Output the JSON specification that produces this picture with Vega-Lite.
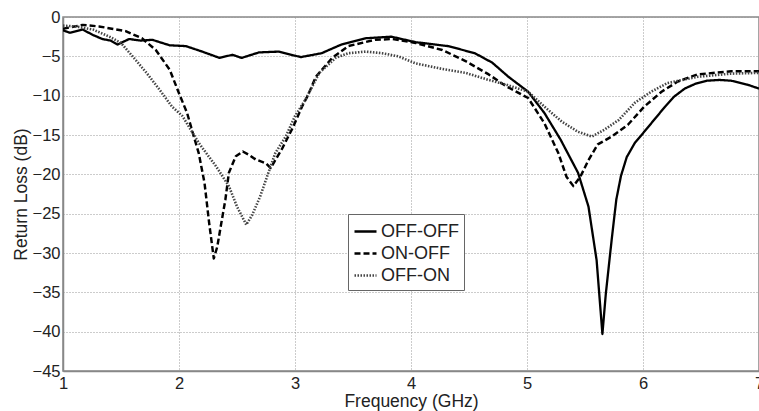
{
  "$schema": "https://vega.github.io/schema/vega-lite/v6.json",
  "width": 696,
  "height": 354,
  "autosize": {"type": "none"},
  "padding": {"left": 63, "top": 17, "right": 0, "bottom": 40},
  "background": "white",
  "config": {
    "font": "Liberation Sans",
    "view": {"stroke": "#888", "strokeWidth": 1.5},
    "axis": {
      "domainColor": "#888",
      "domainWidth": 1.5,
      "gridColor": "#999",
      "gridDash": [1, 2],
      "gridWidth": 1,
      "ticks": false,
      "labelFont": "Liberation Sans",
      "labelFontSize": 16.5,
      "labelColor": "#222",
      "titleFont": "Liberation Sans",
      "titleFontSize": 17.5,
      "titleFontWeight": "normal",
      "titleColor": "#222"
    },
    "legend": {
      "labelFont": "Liberation Sans",
      "labelFontSize": 18,
      "labelColor": "#222"
    }
  },
  "data": {
    "values": [
      {"f": 1.0, "db": -1.7, "s": "OFF-OFF"},
      {"f": 1.06, "db": -2.0, "s": "OFF-OFF"},
      {"f": 1.17, "db": -1.6, "s": "OFF-OFF"},
      {"f": 1.26, "db": -2.3, "s": "OFF-OFF"},
      {"f": 1.34, "db": -2.8, "s": "OFF-OFF"},
      {"f": 1.41, "db": -3.0, "s": "OFF-OFF"},
      {"f": 1.47, "db": -3.5, "s": "OFF-OFF"},
      {"f": 1.57, "db": -2.8, "s": "OFF-OFF"},
      {"f": 1.67, "db": -3.0, "s": "OFF-OFF"},
      {"f": 1.77, "db": -2.9, "s": "OFF-OFF"},
      {"f": 1.92, "db": -3.6, "s": "OFF-OFF"},
      {"f": 2.06, "db": -3.7, "s": "OFF-OFF"},
      {"f": 2.2, "db": -4.4, "s": "OFF-OFF"},
      {"f": 2.35, "db": -5.2, "s": "OFF-OFF"},
      {"f": 2.46, "db": -4.8, "s": "OFF-OFF"},
      {"f": 2.54, "db": -5.2, "s": "OFF-OFF"},
      {"f": 2.69, "db": -4.5, "s": "OFF-OFF"},
      {"f": 2.86, "db": -4.4, "s": "OFF-OFF"},
      {"f": 3.05, "db": -5.1, "s": "OFF-OFF"},
      {"f": 3.23, "db": -4.6, "s": "OFF-OFF"},
      {"f": 3.4, "db": -3.5, "s": "OFF-OFF"},
      {"f": 3.61, "db": -2.7, "s": "OFF-OFF"},
      {"f": 3.83, "db": -2.5, "s": "OFF-OFF"},
      {"f": 4.04, "db": -3.2, "s": "OFF-OFF"},
      {"f": 4.32, "db": -3.7, "s": "OFF-OFF"},
      {"f": 4.55, "db": -4.6, "s": "OFF-OFF"},
      {"f": 4.7, "db": -5.8, "s": "OFF-OFF"},
      {"f": 4.84, "db": -7.6, "s": "OFF-OFF"},
      {"f": 5.01, "db": -9.5, "s": "OFF-OFF"},
      {"f": 5.15, "db": -12.2, "s": "OFF-OFF"},
      {"f": 5.29, "db": -15.6, "s": "OFF-OFF"},
      {"f": 5.44, "db": -19.8, "s": "OFF-OFF"},
      {"f": 5.53, "db": -24.1, "s": "OFF-OFF"},
      {"f": 5.6, "db": -30.9, "s": "OFF-OFF"},
      {"f": 5.65, "db": -40.3, "s": "OFF-OFF"},
      {"f": 5.68, "db": -35.1, "s": "OFF-OFF"},
      {"f": 5.73, "db": -28.3, "s": "OFF-OFF"},
      {"f": 5.77, "db": -23.2, "s": "OFF-OFF"},
      {"f": 5.81, "db": -20.2, "s": "OFF-OFF"},
      {"f": 5.86, "db": -17.8, "s": "OFF-OFF"},
      {"f": 5.93, "db": -16.0, "s": "OFF-OFF"},
      {"f": 6.01, "db": -14.6, "s": "OFF-OFF"},
      {"f": 6.1, "db": -13.0, "s": "OFF-OFF"},
      {"f": 6.19, "db": -11.4, "s": "OFF-OFF"},
      {"f": 6.27, "db": -10.1, "s": "OFF-OFF"},
      {"f": 6.36, "db": -9.1, "s": "OFF-OFF"},
      {"f": 6.45, "db": -8.5, "s": "OFF-OFF"},
      {"f": 6.55, "db": -8.1, "s": "OFF-OFF"},
      {"f": 6.66, "db": -8.0, "s": "OFF-OFF"},
      {"f": 6.76, "db": -8.1, "s": "OFF-OFF"},
      {"f": 6.9, "db": -8.6, "s": "OFF-OFF"},
      {"f": 7.0, "db": -9.1, "s": "OFF-OFF"},

      {"f": 1.0, "db": -1.5, "s": "ON-OFF"},
      {"f": 1.17, "db": -1.0, "s": "ON-OFF"},
      {"f": 1.31, "db": -1.2, "s": "ON-OFF"},
      {"f": 1.54, "db": -1.8, "s": "ON-OFF"},
      {"f": 1.68, "db": -2.7, "s": "ON-OFF"},
      {"f": 1.8, "db": -4.2, "s": "ON-OFF"},
      {"f": 1.92, "db": -6.7, "s": "ON-OFF"},
      {"f": 2.0, "db": -9.7, "s": "ON-OFF"},
      {"f": 2.07, "db": -12.2, "s": "ON-OFF"},
      {"f": 2.12, "db": -14.8, "s": "ON-OFF"},
      {"f": 2.17, "db": -17.3, "s": "ON-OFF"},
      {"f": 2.22, "db": -21.1, "s": "ON-OFF"},
      {"f": 2.26, "db": -26.2, "s": "ON-OFF"},
      {"f": 2.3, "db": -30.7, "s": "ON-OFF"},
      {"f": 2.33, "db": -29.2, "s": "ON-OFF"},
      {"f": 2.36, "db": -26.6, "s": "ON-OFF"},
      {"f": 2.4, "db": -23.2, "s": "ON-OFF"},
      {"f": 2.43, "db": -19.8, "s": "ON-OFF"},
      {"f": 2.49, "db": -17.7, "s": "ON-OFF"},
      {"f": 2.55, "db": -17.1, "s": "ON-OFF"},
      {"f": 2.6, "db": -17.5, "s": "ON-OFF"},
      {"f": 2.66, "db": -18.1, "s": "ON-OFF"},
      {"f": 2.75, "db": -18.6, "s": "ON-OFF"},
      {"f": 2.79, "db": -19.2, "s": "ON-OFF"},
      {"f": 2.83, "db": -18.2, "s": "ON-OFF"},
      {"f": 2.89, "db": -16.7, "s": "ON-OFF"},
      {"f": 2.98, "db": -14.1, "s": "ON-OFF"},
      {"f": 3.06, "db": -11.4, "s": "ON-OFF"},
      {"f": 3.11, "db": -10.0, "s": "ON-OFF"},
      {"f": 3.18, "db": -7.6, "s": "ON-OFF"},
      {"f": 3.32, "db": -5.2, "s": "ON-OFF"},
      {"f": 3.46, "db": -3.7, "s": "ON-OFF"},
      {"f": 3.69, "db": -2.9, "s": "ON-OFF"},
      {"f": 3.84, "db": -2.8, "s": "ON-OFF"},
      {"f": 4.04, "db": -3.3, "s": "ON-OFF"},
      {"f": 4.27, "db": -4.2, "s": "ON-OFF"},
      {"f": 4.47, "db": -5.6, "s": "ON-OFF"},
      {"f": 4.67, "db": -7.3, "s": "ON-OFF"},
      {"f": 4.82, "db": -8.8, "s": "ON-OFF"},
      {"f": 5.01, "db": -10.3, "s": "ON-OFF"},
      {"f": 5.15, "db": -13.5, "s": "ON-OFF"},
      {"f": 5.27, "db": -17.3, "s": "ON-OFF"},
      {"f": 5.34, "db": -20.3, "s": "ON-OFF"},
      {"f": 5.4, "db": -21.5, "s": "ON-OFF"},
      {"f": 5.46, "db": -20.3, "s": "ON-OFF"},
      {"f": 5.53, "db": -18.2, "s": "ON-OFF"},
      {"f": 5.61, "db": -16.2, "s": "ON-OFF"},
      {"f": 5.73, "db": -15.2, "s": "ON-OFF"},
      {"f": 5.87, "db": -13.7, "s": "ON-OFF"},
      {"f": 6.01, "db": -11.4, "s": "ON-OFF"},
      {"f": 6.16, "db": -9.5, "s": "ON-OFF"},
      {"f": 6.3, "db": -8.2, "s": "ON-OFF"},
      {"f": 6.47, "db": -7.3, "s": "ON-OFF"},
      {"f": 6.76, "db": -6.9, "s": "ON-OFF"},
      {"f": 7.0, "db": -6.9, "s": "ON-OFF"},

      {"f": 1.0, "db": -1.1, "s": "OFF-ON"},
      {"f": 1.11, "db": -1.2, "s": "OFF-ON"},
      {"f": 1.26, "db": -1.6, "s": "OFF-ON"},
      {"f": 1.4, "db": -2.5, "s": "OFF-ON"},
      {"f": 1.5, "db": -3.3, "s": "OFF-ON"},
      {"f": 1.6, "db": -5.0, "s": "OFF-ON"},
      {"f": 1.72, "db": -7.1, "s": "OFF-ON"},
      {"f": 1.83, "db": -9.2, "s": "OFF-ON"},
      {"f": 1.94, "db": -11.4, "s": "OFF-ON"},
      {"f": 2.03, "db": -12.6, "s": "OFF-ON"},
      {"f": 2.17, "db": -16.0, "s": "OFF-ON"},
      {"f": 2.32, "db": -19.0, "s": "OFF-ON"},
      {"f": 2.43, "db": -21.5, "s": "OFF-ON"},
      {"f": 2.5, "db": -24.1, "s": "OFF-ON"},
      {"f": 2.58, "db": -26.4, "s": "OFF-ON"},
      {"f": 2.63, "db": -25.2, "s": "OFF-ON"},
      {"f": 2.7, "db": -22.8, "s": "OFF-ON"},
      {"f": 2.78, "db": -19.4, "s": "OFF-ON"},
      {"f": 2.83, "db": -17.3, "s": "OFF-ON"},
      {"f": 2.92, "db": -15.2, "s": "OFF-ON"},
      {"f": 3.0, "db": -12.6, "s": "OFF-ON"},
      {"f": 3.09, "db": -10.5, "s": "OFF-ON"},
      {"f": 3.21, "db": -7.1, "s": "OFF-ON"},
      {"f": 3.35, "db": -5.2, "s": "OFF-ON"},
      {"f": 3.46, "db": -4.6, "s": "OFF-ON"},
      {"f": 3.61, "db": -4.4, "s": "OFF-ON"},
      {"f": 3.75, "db": -4.6, "s": "OFF-ON"},
      {"f": 3.89, "db": -5.0, "s": "OFF-ON"},
      {"f": 4.04, "db": -5.9, "s": "OFF-ON"},
      {"f": 4.27, "db": -6.6, "s": "OFF-ON"},
      {"f": 4.47, "db": -7.1, "s": "OFF-ON"},
      {"f": 4.67, "db": -8.0, "s": "OFF-ON"},
      {"f": 4.82, "db": -8.6, "s": "OFF-ON"},
      {"f": 5.01, "db": -9.5, "s": "OFF-ON"},
      {"f": 5.15, "db": -11.4, "s": "OFF-ON"},
      {"f": 5.3, "db": -13.3, "s": "OFF-ON"},
      {"f": 5.44, "db": -14.6, "s": "OFF-ON"},
      {"f": 5.56, "db": -15.2, "s": "OFF-ON"},
      {"f": 5.67, "db": -14.3, "s": "OFF-ON"},
      {"f": 5.79, "db": -13.1, "s": "OFF-ON"},
      {"f": 5.93, "db": -10.9, "s": "OFF-ON"},
      {"f": 6.07, "db": -9.5, "s": "OFF-ON"},
      {"f": 6.21, "db": -8.4, "s": "OFF-ON"},
      {"f": 6.47, "db": -7.6, "s": "OFF-ON"},
      {"f": 6.76, "db": -7.2, "s": "OFF-ON"},
      {"f": 7.0, "db": -7.1, "s": "OFF-ON"}
    ]
  },
  "mark": {"type": "line", "clip": true, "strokeJoin": "round"},
  "encoding": {
    "x": {
      "field": "f",
      "type": "quantitative",
      "scale": {"domain": [1, 7], "nice": false, "zero": false},
      "axis": {"values": [1, 2, 3, 4, 5, 6, 7], "title": "Frequency (GHz)", "labelPadding": 4, "titlePadding": 1, "labelFlush": false}
    },
    "y": {
      "field": "db",
      "type": "quantitative",
      "scale": {"domain": [-45, 0], "nice": false, "zero": false},
      "axis": {"values": [-45, -40, -35, -30, -25, -20, -15, -10, -5, 0], "title": "Return Loss (dB)", "labelPadding": 3, "titlePadding": 2, "labelFlush": false}
    },
    "color": {
      "field": "s",
      "type": "nominal",
      "sort": ["OFF-OFF", "ON-OFF", "OFF-ON"],
      "scale": {"domain": ["OFF-OFF", "ON-OFF", "OFF-ON"], "range": ["#000000", "#000000", "#444444"]},
      "legend": {
        "title": null,
        "orient": "none",
        "legendX": 285,
        "legendY": 197,
        "symbolType": "stroke",
        "symbolSize": 484,
        "symbolStrokeWidth": 2.5,
        "strokeColor": "#666",
        "fillColor": "white",
        "padding": 5,
        "rowPadding": 0,
        "labelOffset": 3
      }
    },
    "strokeDash": {
      "field": "s",
      "type": "nominal",
      "sort": ["OFF-OFF", "ON-OFF", "OFF-ON"],
      "scale": {"domain": ["OFF-OFF", "ON-OFF", "OFF-ON"], "range": [[1, 0], [6, 3], [1.5, 1.5]]},
      "legend": {
        "title": null,
        "orient": "none",
        "legendX": 285,
        "legendY": 197,
        "symbolType": "stroke",
        "symbolSize": 484,
        "symbolStrokeWidth": 2.5,
        "strokeColor": "#666",
        "fillColor": "white",
        "padding": 5,
        "rowPadding": 0,
        "labelOffset": 3
      }
    },
    "strokeWidth": {
      "field": "s",
      "type": "nominal",
      "sort": ["OFF-OFF", "ON-OFF", "OFF-ON"],
      "scale": {"domain": ["OFF-OFF", "ON-OFF", "OFF-ON"], "range": [2.3, 2.6, 1.3]},
      "legend": {
        "title": null,
        "orient": "none",
        "legendX": 285,
        "legendY": 197,
        "symbolType": "stroke",
        "symbolSize": 484,
        "strokeColor": "#666",
        "fillColor": "white",
        "padding": 5,
        "rowPadding": 0,
        "labelOffset": 3
      }
    }
  }
}
